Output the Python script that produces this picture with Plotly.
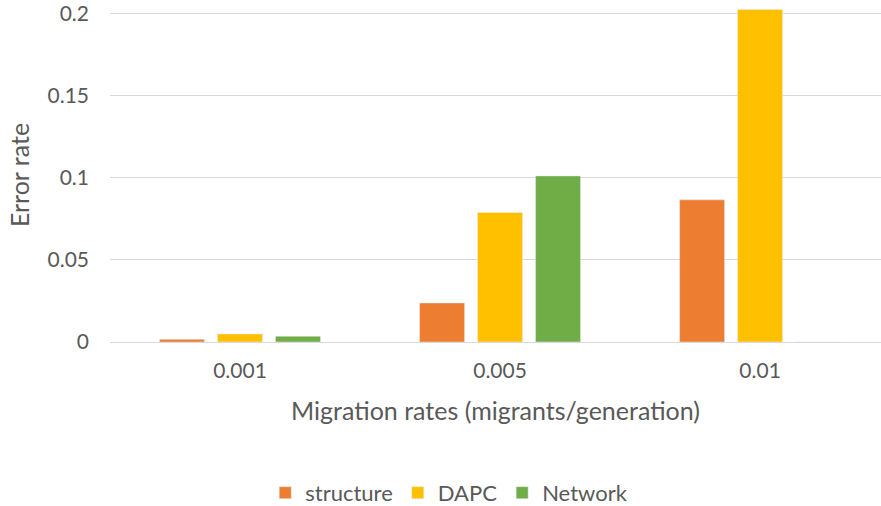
import plotly.graph_objects as go

# Migration rate categories and error rates per method
categories = ["0.001", "0.005", "0.01"]
structure = [0.0016, 0.0238, 0.0866]
dapc = [0.0049, 0.0789, 0.2026]
network = [0.0035, 0.1012, 0.0]

FONT = "Lato"
TEXT = "#595959"

fig = go.Figure()
fig.add_bar(name="structure", x=categories, y=structure, marker_color="#ED7D31")
fig.add_bar(name="DAPC", x=categories, y=dapc, marker_color="#FFC000")
fig.add_bar(name="Network", x=categories, y=network, marker_color="#70AD47")

fig.update_layout(
    width=881, height=506,
    margin=dict(l=110, r=0, t=8, b=164),
    paper_bgcolor="white", plot_bgcolor="white",
    font=dict(family=FONT, size=21, color=TEXT),
    barmode="group", bargap=0.331, bargroupgap=0.224,
    showlegend=True,
    legend=dict(orientation="h", x=0.44, xanchor="center",
                yref="container", y=0.026, yanchor="middle",
                font=dict(size=22, color=TEXT), itemwidth=30),
)
fig.update_xaxes(
    range=[-0.5, 2.465], showgrid=False, showline=False, ticks="",
    ticklabelstandoff=14, tickfont=dict(size=21),
    title=dict(text="Migration rates (migrants/generation)", font=dict(size=25, color=TEXT), standoff=21),
)
fig.update_yaxes(
    range=[0, 0.2035], tickvals=[0, 0.05, 0.1, 0.15, 0.2],
    ticktext=["0", "0.05", "0.1", "0.15", "0.2"],
    showgrid=True, gridcolor="#d9d9d9", gridwidth=1.3,
    zeroline=True, zerolinecolor="#d9d9d9", zerolinewidth=1.3,
    showline=False, ticks="", ticklabelstandoff=20, tickfont=dict(size=21),
    title=dict(text="Error rate", font=dict(size=25, color=TEXT), standoff=10),
)

fig.write_html("out.html")
